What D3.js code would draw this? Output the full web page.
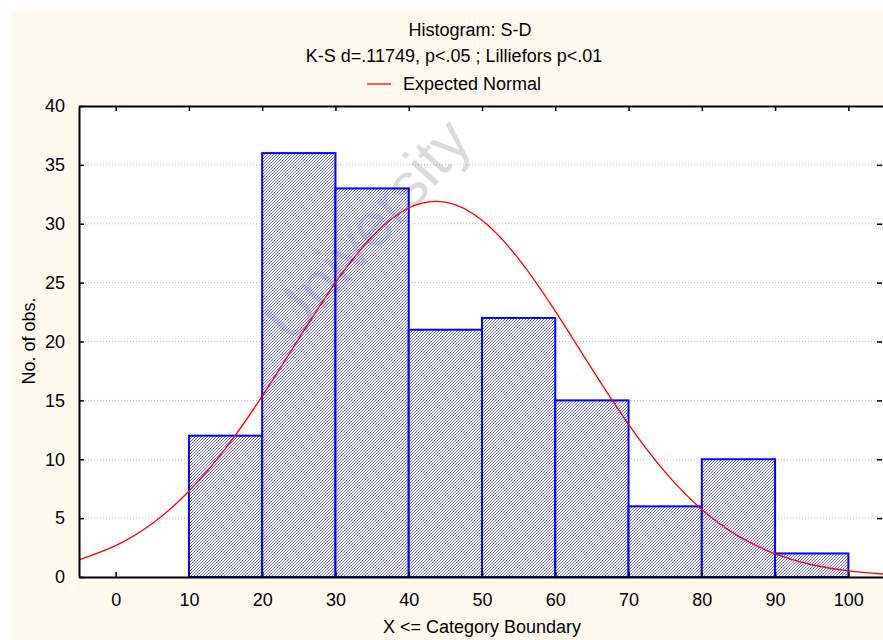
<!DOCTYPE html>
<html>
<head>
<meta charset="utf-8">
<script src="https://cdn.jsdelivr.net/npm/d3@7/dist/d3.min.js"></script>
<style>
  body { margin: 0; background: #fff; }
  text { font-family: "Liberation Sans", Arial, sans-serif; fill: #000; }
</style>
</head>
<body>
<div id="chart"></div>
<script>
// histogram bins (upper boundary) and counts
var binStart = [0, 10, 20, 30, 40, 50, 60, 70, 80, 90];
var binEnd = [10, 20, 30, 40, 50, 60, 70, 80, 90, 100];
var counts = [0, 12, 36, 33, 21, 22, 15, 6, 10, 2];

// expected normal curve
var normX = [-5, 0, 5, 10, 15, 20, 25, 30, 35, 40, 45, 50, 55, 60, 65, 70, 75, 80, 85, 90, 95, 100, 105];
var normY = [1.46, 2.66, 4.54, 7.28, 10.92, 15.36, 20.24, 24.99, 28.91, 31.34, 31.83, 30.29, 27.02,
             22.58, 17.68, 12.97, 8.91, 5.74, 3.47, 1.96, 1.04, 0.52, 0.24];

var xTicks = [0, 10, 20, 30, 40, 50, 60, 70, 80, 90, 100];
var yTicks = [0, 5, 10, 15, 20, 25, 30, 35, 40];

var W = 883, H = 640;
var margin = {top: 106, left: 79, bottom: 63},
    width = 806,
    height = H - margin.top - margin.bottom;

var svg = d3.select("#chart").append("svg")
    .attr("width", W)
    .attr("height", H);

// hatch pattern
var defs = svg.append("defs");
var pat = defs.append("pattern")
    .attr("id", "hatch")
    .attr("patternUnits", "userSpaceOnUse")
    .attr("width", 3)
    .attr("height", 3);
pat.append("rect").attr("width", 3).attr("height", 3).attr("fill", "#fff");
pat.append("path")
    .attr("d", "M-1,1 L1,-1 M0,3 L3,0 M2,4 L4,2")
    .attr("stroke", "#5a5aff")
    .attr("stroke-width", 0.9);

// cream page background
svg.append("rect")
    .attr("x", 11).attr("y", 10)
    .attr("width", W).attr("height", H)
    .attr("fill", "#fffaf0");

var g = svg.append("g")
    .attr("transform", "translate(" + margin.left + "," + margin.top + ")");

var x = d3.scaleLinear().domain([-5, 105]).range([0, width]);
var y = d3.scaleLinear().domain([0, 40]).range([height, 0]);

// plot area
g.append("rect")
    .attr("width", width).attr("height", height)
    .attr("fill", "#fff");

// dotted grid lines
g.append("g")
    .selectAll("line")
    .data(yTicks.slice(1, -1))
    .enter().append("line")
    .attr("x1", 0).attr("x2", width)
    .attr("y1", function(d) { return y(d); })
    .attr("y2", function(d) { return y(d); })
    .attr("stroke", "#bbb")
    .attr("stroke-width", 1)
    .attr("stroke-dasharray", "1,2");

// bars
g.selectAll(".bar")
    .data(counts)
    .enter().append("rect")
    .attr("class", "bar")
    .attr("x", function(d, i) { return x(binStart[i]); })
    .attr("width", function(d, i) { return x(binEnd[i]) - x(binStart[i]); })
    .attr("y", function(d) { return y(d); })
    .attr("height", function(d) { return height - y(d); })
    .attr("fill", "url(#hatch)")
    .attr("stroke", "#0000ff")
    .attr("stroke-width", 2);

// normal curve
var line = d3.line()
    .x(function(d, i) { return x(normX[i]); })
    .y(function(d) { return y(d); })
    .curve(d3.curveNatural);
g.append("path")
    .datum(normY)
    .attr("d", line)
    .attr("fill", "none")
    .attr("stroke", "#ff0000")
    .attr("stroke-width", 1.3);

// axes with inward ticks
var axBottom = g.append("g")
    .attr("transform", "translate(0," + height + ")")
    .call(d3.axisBottom(x).tickValues(xTicks).tickSizeInner(-5).tickSizeOuter(0).tickPadding(16));
var axTop = g.append("g")
    .call(d3.axisTop(x).tickValues(xTicks).tickSizeInner(-5).tickSizeOuter(0).tickFormat(""));
var axLeft = g.append("g")
    .call(d3.axisLeft(y).tickValues(yTicks).tickSizeInner(-5).tickSizeOuter(0).tickPadding(14));
var axRight = g.append("g")
    .attr("transform", "translate(" + (W - 1 - margin.left) + ",0)")
    .call(d3.axisRight(y).tickValues(yTicks.slice(1, -1)).tickSizeInner(-5).tickSizeOuter(0).tickFormat(""));
axRight.select(".domain").remove();

[axBottom, axTop, axLeft, axRight].forEach(function(a) {
    a.selectAll(".domain").attr("stroke", "#000").attr("stroke-width", 2);
    a.selectAll(".tick line").attr("stroke", "#000").attr("stroke-width", 1.5);
    a.selectAll("text").style("font-family", "Liberation Sans, Arial, sans-serif")
        .style("font-size", "18px").attr("fill", "#000");
});

// titles
svg.append("text").attr("x", 470).attr("y", 36).attr("text-anchor", "middle")
    .style("font-size", "18px").text("Histogram: S-D");
svg.append("text").attr("x", 454).attr("y", 62).attr("text-anchor", "middle")
    .style("font-size", "18px").text("K-S d=.11749, p<.05 ; Lilliefors p<.01");

// legend
var lg = svg.append("g").attr("transform", "translate(367,84)");
lg.append("line").attr("x1", 0).attr("x2", 24).attr("y1", 0).attr("y2", 0)
    .attr("stroke", "#ff0000").attr("stroke-width", 1.3);
lg.append("text").attr("x", 36).attr("y", 6).style("font-size", "18px").text("Expected Normal");

// axis titles
svg.append("text").attr("x", 482).attr("y", 633).attr("text-anchor", "middle")
    .style("font-size", "18px").text("X <= Category Boundary");
svg.append("text").attr("transform", "translate(35,341) rotate(-90)").attr("text-anchor", "middle")
    .style("font-size", "18px").text("No. of obs.");

// faint watermark
svg.append("text").attr("transform", "translate(292,345) rotate(-48)")
    .style("font-size", "62px").attr("fill", "#999").attr("fill-opacity", 0.14)
    .text("University");
</script>
</body>
</html>
